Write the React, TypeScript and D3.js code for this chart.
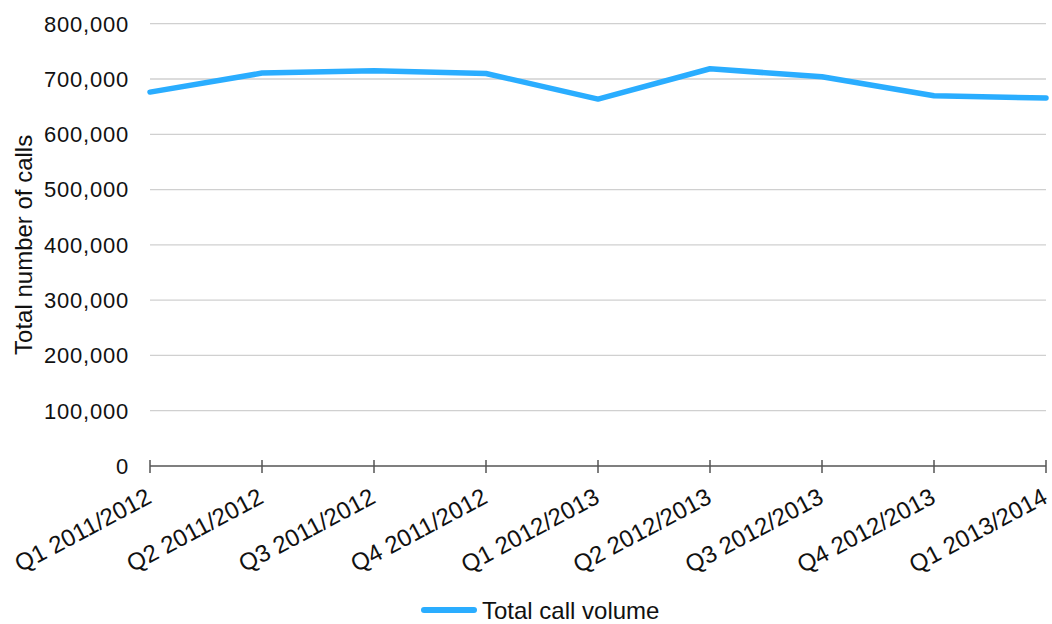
import React from "react";
import * as d3 from "d3";

const quarters: string[] = [
  "Q1 2011/2012",
  "Q2 2011/2012",
  "Q3 2011/2012",
  "Q4 2011/2012",
  "Q1 2012/2013",
  "Q2 2012/2013",
  "Q3 2012/2013",
  "Q4 2012/2013",
  "Q1 2013/2014",
];

const callVolume: number[] = [676300, 710700, 714800, 709900, 663700, 718500, 704000, 669700, 665500];

const yTicks: number[] = [0, 100000, 200000, 300000, 400000, 500000, 600000, 700000, 800000];

const seriesName = "Total call volume";
const yTitle = "Total number of calls";

const W = 1052;
const H = 624;
const M = { left: 150, right: 6, top: 23.7, bottom: 158 };
const FONT = "'Liberation Sans', Arial, sans-serif";
const LINE = "#2aadff";

export default function App() {
  const x = d3
    .scalePoint<string>()
    .domain(quarters)
    .range([M.left, W - M.right]);
  const y = d3
    .scaleLinear()
    .domain([0, 800000])
    .range([H - M.bottom, M.top]);

  const fmt = d3.format(",");
  const line = d3
    .line<number>()
    .x((_, i) => x(quarters[i]) as number)
    .y((d) => y(d));

  const y0 = y(0);

  return (
    <svg
      width={W}
      height={H}
      style={{ position: "absolute", left: 0, top: 0, background: "#fff" }}
      fontFamily={FONT}
    >
      {yTicks.map((t) =>
        t === 0 ? null : (
          <line key={t} x1={M.left} x2={W - M.right} y1={y(t)} y2={y(t)} stroke="#d0d0d0" strokeWidth={1.3} />
        )
      )}
      {yTicks.map((t) => (
        <text
          key={"l" + t}
          x={129}
          y={y(t)}
          dy="0.36em"
          textAnchor="end"
          fontSize={22}
          letterSpacing={0.8}
          fill="#111"
        >
          {fmt(t)}
        </text>
      ))}
      <text
        transform={`translate(32,${(M.top + y0) / 2}) rotate(-90)`}
        textAnchor="middle"
        fontSize={24}
        fill="#111"
      >
        {yTitle}
      </text>

      <line x1={M.left} x2={W - M.right} y1={y0} y2={y0} stroke="#555" strokeWidth={1.5} />
      {quarters.map((q) => (
        <line key={"t" + q} x1={x(q)} x2={x(q)} y1={y0 - 6} y2={y0 + 7} stroke="#555" strokeWidth={1.5} />
      ))}
      {quarters.map((q) => (
        <text
          key={"x" + q}
          transform={`translate(${(x(q) as number) + 3},${y0 + 36}) rotate(-28)`}
          textAnchor="end"
          fontSize={24}
          fill="#111"
        >
          {q}
        </text>
      ))}

      <path
        d={line(callVolume) ?? ""}
        fill="none"
        stroke={LINE}
        strokeWidth={5.5}
        strokeLinejoin="round"
        strokeLinecap="round"
      />

      <line x1={424} x2={474} y1={610} y2={610} stroke={LINE} strokeWidth={6} strokeLinecap="round" />
      <text x={482} y={619} fontSize={24} fill="#111">
        {seriesName}
      </text>
    </svg>
  );
}
